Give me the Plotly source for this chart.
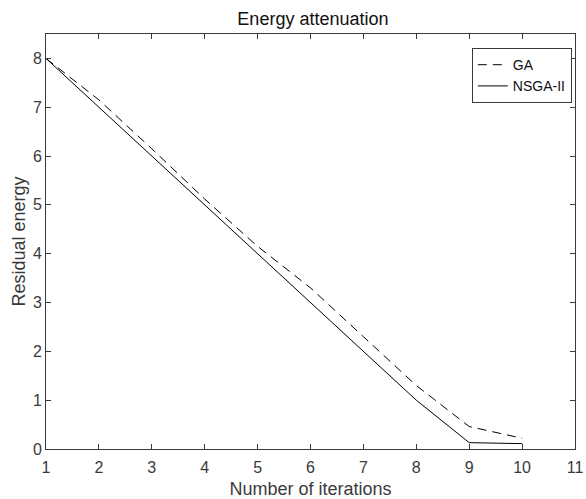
import plotly.graph_objects as go

iterations = [1, 2, 3, 4, 5, 6, 7, 8, 9, 10]
ga_energy = [8.0, 7.15, 6.15, 5.12, 4.15, 3.3, 2.3, 1.3, 0.46, 0.22]
nsga_energy = [8.0, 7.0, 6.0, 5.0, 4.0, 3.0, 2.0, 1.0, 0.13, 0.11]
x_ticks = list(range(1, 12))
y_ticks = list(range(0, 9))

font = "Liberation Sans, Arial, sans-serif"
axcol = "#3a3a3a"

fig = go.Figure()
fig.add_trace(go.Scatter(x=iterations, y=ga_energy, mode="lines", name="GA",
                         line=dict(color="#000000", width=1, dash="9px,6px")))
fig.add_trace(go.Scatter(x=iterations, y=nsga_energy, mode="lines", name="NSGA-II",
                         line=dict(color="#000000", width=1)))

axis_common = dict(showgrid=False, zeroline=False, showline=True, linecolor=axcol,
                   linewidth=1, mirror="ticks", ticks="inside", ticklen=5,
                   tickcolor=axcol, ticklabeloverflow="allow", automargin=False,
                   tickfont=dict(family=font, size=16, color=axcol))

fig.update_layout(
    width=586, height=499,
    margin=dict(l=46, r=11, t=34, b=50),
    paper_bgcolor="white", plot_bgcolor="white",
    title=dict(text="Energy attenuation", x=0.534, xanchor="center", y=0.963, yanchor="middle",
               font=dict(family=font, size=18, color="#111111")),
    xaxis=dict(range=[1, 11], tickvals=x_ticks, ticklabelstandoff=4,
               title=dict(text="Number of iterations", standoff=7,
                          font=dict(family=font, size=18, color=axcol)),
               **axis_common),
    yaxis=dict(range=[0, 8.5], tickvals=y_ticks,
               title=dict(text="Residual energy", standoff=2,
                          font=dict(family=font, size=18, color=axcol)),
               **axis_common),
    legend=dict(x=0.994, xanchor="right", y=0.966, yanchor="top",
                bordercolor=axcol, borderwidth=1, bgcolor="white",
                font=dict(family=font, size=14, color="#111111"),
                tracegroupgap=0, itemwidth=30),
    showlegend=True,
)

fig.write_html("out.html", config={"displayModeBar": False},
               post_script="document.body.style.margin='0';")
